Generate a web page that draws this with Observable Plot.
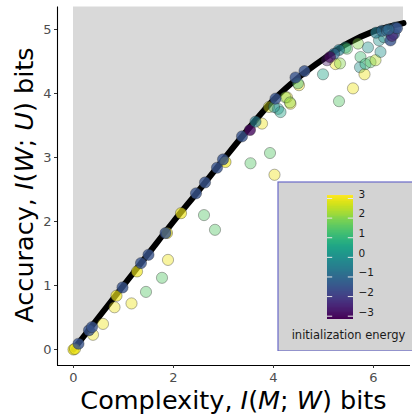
<!DOCTYPE html>
<html>
<head>
<meta charset="utf-8">
<script src="https://cdn.jsdelivr.net/npm/d3@7"></script>
<script src="https://cdn.jsdelivr.net/npm/@observablehq/plot@0.6"></script>
<style>
  html, body { margin: 0; padding: 0; background: #fff; overflow: hidden; }
  #wrap { position: relative; width: 412px; height: 417px; overflow: hidden; font-family: "DejaVu Sans", sans-serif; }
  #legend { position: absolute; left: 277px; top: 181px; width: 145px; }
  #legend svg { max-width: none !important; }
</style>
</head>
<body>
<div id="wrap"><div id="main"></div><div id="legend"></div></div>
<script>
// Rate–distortion (complexity/accuracy) bound curve
const curveX = [0, 0.5, 1, 1.5, 2, 2.5, 3, 3.5, 4, 4.5, 5, 5.5, 6, 6.6];
const curveY = [0, 0.5, 1, 1.5, 2, 2.48, 2.97, 3.45, 3.9, 4.25, 4.54, 4.79, 4.97, 5.1];

// Points: complexity, accuracy, initialization energy, number of overlapping runs
const complexity = [
  0, 0.03, 0.39, 0.59, 0.82, 0.86, 1.16, 1.27, 1.45, 1.77, 1.89, 1.87, 2.15, 2.61, 2.83, 3.04,
  3.54, 3.93, 4.02, 3.77, 3.91, 4.27, 4.34, 4.51, 4.24, 4.33, 4.09, 4.14, 4.01, 4.49,
  0.1, 0.31, 0.37, 0.98, 1.35, 1.5, 1.84, 2.45, 2.63, 2.87, 2.99, 3.37, 3.53, 3.64, 4.04, 4.44, 4.62,
  4.99, 5.31, 5.59, 5.24, 5.33, 5.44, 5.47, 5.69, 5.74, 5.89, 5.73, 5.82, 5.84, 5.94, 6.04,
  6.14, 6.11, 6.21, 5.31, 5.21, 5.07, 5.13, 6.05, 6.17, 6.27, 6.34, 6.41, 6.37, 6.44, 6.47, 6.3
];
const accuracy = [
  0, 0.01, 0.23, 0.40, 0.66, 0.84, 0.72, 1.22, 0.90, 1.12, 1.40, 1.82, 2.13, 2.10, 1.87, 2.93,
  2.91, 3.07, 2.73, 3.53, 3.79, 3.94, 3.84, 4.13, 3.94, 3.86, 3.76, 3.71, 3.79, 4.16,
  0.09, 0.30, 0.35, 0.97, 1.35, 1.48, 1.82, 2.44, 2.61, 2.84, 2.97, 3.33, 3.43, 3.56, 3.92, 4.25, 4.35,
  4.30, 3.88, 4.08, 4.46, 4.47, 4.72, 4.70, 4.78, 4.57, 4.72, 4.41, 4.30, 4.46, 4.49, 4.52,
  4.65, 4.83, 4.88, 4.68, 4.62, 4.52, 4.57, 4.95, 4.98, 4.98, 4.83, 4.93, 4.90, 5.03, 5.02, 5.0
];
const energy = [
  3, 3, 3, 3, 3, 3, 3, 3, 1.5, 1.5, 3, 3, 3, 1.5, 1.5, 3,
  1.5, 1.5, 3, 3, 2.8, 3, 3, 3, 2, 2, 0, 0.5, 0, 1,
  -1.5, -1.5, -1.5, -1.5, -1.5, -1.5, -1.5, -1.5, -1.5, -1.5, -1.5, -1.5, -3, -0.5, -1.5, -1.5, -1.5,
  0.5, 1.5, 3, 3, 2, 0.5, 1.5, 2, 1.2, 0, 0, 3, 1, 1.5, 2.5,
  0, 0, 0, -0.5, -1, -2.8, -3, -0.5, -1, -1, -1.5, -1.5, -2.5, -1.2, -1.5, -1
];
const runs = [
  3, 2, 1, 1, 1, 2, 1, 2, 1, 1, 1, 2, 2, 1, 1, 2,
  1, 1, 1, 1, 1, 1, 1, 1, 1, 1, 1, 1, 1, 1,
  3, 3, 3, 3, 3, 3, 3, 3, 3, 3, 3, 3, 3, 2, 3, 3, 3,
  1, 1, 1, 1, 1, 1, 1, 1, 1, 1, 1, 1, 1, 1, 1,
  1, 1, 1, 2, 2, 1, 2, 2, 2, 2, 3, 3, 2, 2, 3, 2
];

// Axis tick values and colourbar ticks
const xTicks = [0, 2, 4, 6];
const yTicks = [0, 1, 2, 3, 4, 5];
const legendTicks = [-3, -2, -1, 0, 1, 2, 3];

const xDomain = [-0.32, 6.74];
const yDomain = [-0.25, 5.35];
const colorDomain = [-3.15, 3.15];
const alpha = 0.42;

const curve = curveX.map((x, i) => ({x, y: curveY[i]}));
const pts = complexity.map((x, i) => ({x, y: accuracy[i], e: energy[i], o: 1 - Math.pow(1 - alpha, runs[i])}));
const fmt = d => d < 0 ? "\u2212" + Math.abs(d) : String(d);

const main = Plot.plot({
  width: 412, height: 417,
  marginLeft: 57, marginRight: 2, marginTop: 6.6, marginBottom: 52,
  style: {fontFamily: "DejaVu Sans, sans-serif", background: "transparent"},
  x: {domain: xDomain},
  y: {domain: yDomain},
  color: {type: "linear", scheme: "viridis", domain: colorDomain},
  marks: [
    Plot.areaY(curve, {x: "x", y1: "y", y2: yDomain[1], fill: "#d9d9d9", curve: "monotone-x"}),
    Plot.line(curve, {x: "x", y: "y", stroke: "#000", strokeWidth: 6, curve: "monotone-x"}),
    Plot.dot(pts, {x: "x", y: "y", fill: "e", r: 5.6, fillOpacity: "o", stroke: "#222", strokeOpacity: 0.35, strokeWidth: 1}),
    Plot.ruleX([xDomain[0]], {stroke: "#000", strokeWidth: 1.1}),
    Plot.ruleY([yDomain[0]], {stroke: "#000", strokeWidth: 1.1}),
    Plot.axisX({ticks: xTicks, tickFormat: d => String(d), tickSize: 3, tickPadding: 4, fontSize: 13, color: "#4d4d4d", stroke: "#333", label: null}),
    Plot.axisY({ticks: yTicks, tickFormat: d => String(d), tickSize: 3, tickPadding: 3, fontSize: 13, color: "#4d4d4d", stroke: "#333", label: null})
  ]
});
document.getElementById("main").appendChild(main);

// axis titles with italic variables
const svg = d3.select(main);
const xl = svg.append("text")
  .attr("x", 233.5).attr("y", 408.5)
  .attr("text-anchor", "middle")
  .style("font-size", "25.5px").style("font-family", "DejaVu Sans, sans-serif").attr("fill", "#000");
xl.append("tspan").text("Complexity, ");
xl.append("tspan").attr("font-style", "italic").text("I");
xl.append("tspan").text("(");
xl.append("tspan").attr("font-style", "italic").text("M");
xl.append("tspan").text("; ");
xl.append("tspan").attr("font-style", "italic").text("W");
xl.append("tspan").text(") bits");

const yl = svg.append("text")
  .attr("transform", "translate(33,185) rotate(-90)")
  .attr("text-anchor", "middle")
  .style("font-size", "25.5px").style("font-family", "DejaVu Sans, sans-serif").attr("fill", "#000");
yl.append("tspan").text("Accuracy, ");
yl.append("tspan").attr("font-style", "italic").text("I");
yl.append("tspan").text("(");
yl.append("tspan").attr("font-style", "italic").text("W");
yl.append("tspan").text("; ");
yl.append("tspan").attr("font-style", "italic").text("U");
yl.append("tspan").text(") bits");

// Colourbar legend (inset)
const nSteps = 128;
const stepH = (colorDomain[1] - colorDomain[0]) / nSteps;
const steps = d3.range(nSteps).map(i => colorDomain[0] + (i + 0.5) * stepH);
const legend = Plot.plot({
  width: 145, height: 170,
  margin: 0,
  style: {fontFamily: "DejaVu Sans, sans-serif", background: "transparent", maxWidth: "none"},
  x: {domain: [0, 1], range: [50, 76], axis: null},
  y: {domain: [-3, 3], range: [134.7, 17], axis: null},
  color: {type: "linear", scheme: "viridis", domain: colorDomain},
  marks: [
    Plot.frame({fill: "#d3d3d3", stroke: "#6a6ac8", strokeWidth: 1.2, inset: 0.5}),
    Plot.rect(steps, {x1: 0, x2: 1, y1: d => d - stepH / 2 - 0.01, y2: d => d + stepH / 2 + 0.01, fill: d => d, shapeRendering: "crispEdges"}),
    Plot.ruleY(legendTicks, {x1: 0, x2: 0.2, stroke: "#e8e8e8", strokeWidth: 1}),
    Plot.ruleY(legendTicks, {x1: 0.8, x2: 1, stroke: "#e8e8e8", strokeWidth: 1}),
    Plot.text(legendTicks, {x: 1, y: d => d, text: fmt, dx: 5, dy: -4, textAnchor: "start", fontSize: 10.5, fill: "#1a1a1a"}),
    Plot.text(["initialization energy"], {x: 0.5, y: -3, dx: 8, dy: 19, fontSize: 11.5, fill: "#1a1a1a"})
  ]
});
document.getElementById("legend").appendChild(legend);
</script>
</body>
</html>
